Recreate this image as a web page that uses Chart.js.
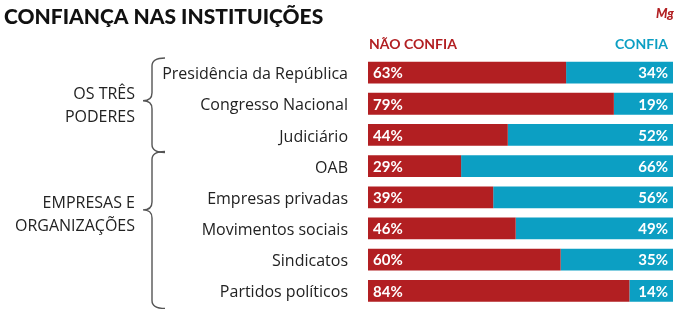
<!DOCTYPE html>
<html>
<head>
<meta charset="utf-8">
<script src="https://cdn.jsdelivr.net/npm/chart.js@4"></script>
<style>
  html, body { margin: 0; padding: 0; background: #fff; }
  #wrap { width: 680px; height: 328px; position: relative; }
</style>
</head>
<body>
<div id="wrap"><canvas id="chart"></canvas></div>
<script>
const categories = ['Presidência da República', 'Congresso Nacional', 'Judiciário', 'OAB',
  'Empresas privadas', 'Movimentos sociais', 'Sindicatos', 'Partidos políticos'];
const naoConfia = [63, 79, 44, 29, 39, 46, 60, 84];
const confia = [34, 19, 52, 66, 56, 49, 35, 14];
// groups: label lines, first/last row index, row where label sits
const groupLabels = [['OS TRÊS', 'PODERES'], ['EMPRESAS E', 'ORGANIZAÇÕES']];
const groupRows = [[0, 2, 1], [3, 7, 4.5]];

const RED = '#b21f22';
const BLUE = '#0c9fc3';

// bars share the full width, so each row is scaled to its own total
const redShare = naoConfia.map((v, i) => v / (v + confia[i]) * 100);
const blueShare = confia.map((v, i) => v / (naoConfia[i] + v) * 100);

const decor = {
  id: 'decor',
  afterDraw(chart) {
    const ctx = chart.ctx;
    const y = chart.scales.y;
    const area = chart.chartArea;
    ctx.save();

    // title
    ctx.fillStyle = '#111';
    ctx.font = '900 21px Lato';
    ctx.textBaseline = 'middle';
    ctx.textAlign = 'left';
    ctx.fillText('CONFIANÇA NAS INSTITUIÇÕES', 4, 17);

    // logo
    ctx.fillStyle = RED;
    ctx.font = 'italic 900 13px Lato';
    ctx.textAlign = 'right';
    ctx.fillText('Mg', 674, 14);

    // column headers
    ctx.font = 'bold 14px Lato';
    ctx.textAlign = 'left';
    ctx.fillStyle = RED;
    ctx.fillText('NÃO CONFIA', area.left + 1, 44);
    ctx.textAlign = 'right';
    ctx.fillStyle = BLUE;
    ctx.fillText('CONFIA', area.right - 5, 44);

    // values inside the bars
    ctx.font = 'bold 15px Lato';
    ctx.fillStyle = '#fff';
    const m0 = chart.getDatasetMeta(0).data;
    const m1 = chart.getDatasetMeta(1).data;
    m0.forEach((bar, i) => {
      ctx.textAlign = 'left';
      ctx.fillText(naoConfia[i] + '%', bar.base + 5, bar.y + 1);
    });
    m1.forEach((bar, i) => {
      ctx.textAlign = 'right';
      ctx.fillText(confia[i] + '%', bar.x - 5, bar.y + 1);
    });

    // group labels and braces
    const half = (y.getPixelForValue(1) - y.getPixelForValue(0)) / 2;
    groupRows.forEach((g, gi) => {
      const top = y.getPixelForValue(g[0]) - half + 1;
      const bot = y.getPixelForValue(g[1]) + half + 2;
      const a = y.getPixelForValue(Math.floor(g[2]));
      const b = y.getPixelForValue(Math.ceil(g[2]));
      const mid = a + (b - a) * (g[2] - Math.floor(g[2]));
      const tip = mid - 3;

      ctx.strokeStyle = '#555';
      ctx.lineWidth = 1.4;
      const xv = 152, xt = 143, xe = 165, r = 8;
      ctx.beginPath();
      ctx.moveTo(xe, top);
      ctx.quadraticCurveTo(xv, top, xv, top + r);
      ctx.lineTo(xv, tip - r);
      ctx.quadraticCurveTo(xv, tip, xt, tip);
      ctx.quadraticCurveTo(xv, tip, xv, tip + r);
      ctx.lineTo(xv, bot - r);
      ctx.quadraticCurveTo(xv, bot, xe, bot);
      ctx.stroke();

      ctx.fillStyle = '#222';
      ctx.font = '16px "Open Sans"';
      ctx.textAlign = 'right';
      const lines = groupLabels[gi];
      lines.forEach((t, li) => {
        ctx.fillText(t, 135, mid + 2 + (li - (lines.length - 1) / 2) * 23);
      });
    });
    ctx.restore();
  }
};

new Chart(document.getElementById('chart'), {
  type: 'bar',
  data: {
    labels: categories,
    datasets: [
      { label: 'NÃO CONFIA', data: redShare, backgroundColor: RED, borderWidth: 0 },
      { label: 'CONFIA', data: blueShare, backgroundColor: BLUE, borderWidth: 0 }
    ]
  },
  options: {
    indexAxis: 'y',
    responsive: true,
    maintainAspectRatio: false,
    animation: false,
    layout: { padding: { top: 57, bottom: 19, right: 7, left: 0 } },
    datasets: { bar: { categoryPercentage: 0.7, barPercentage: 1 } },
    scales: {
      x: { stacked: true, min: 0, max: 100, display: false },
      y: {
        stacked: true,
        grid: { display: false },
        border: { display: false },
        ticks: { color: '#222', font: { family: 'Open Sans', size: 16, weight: '400' }, padding: 12, labelOffset: 2 },
        afterFit(scale) { scale.width = 368; }
      }
    },
    plugins: { legend: { display: false }, tooltip: { enabled: false } }
  },
  plugins: [decor]
});
</script>
</body>
</html>
